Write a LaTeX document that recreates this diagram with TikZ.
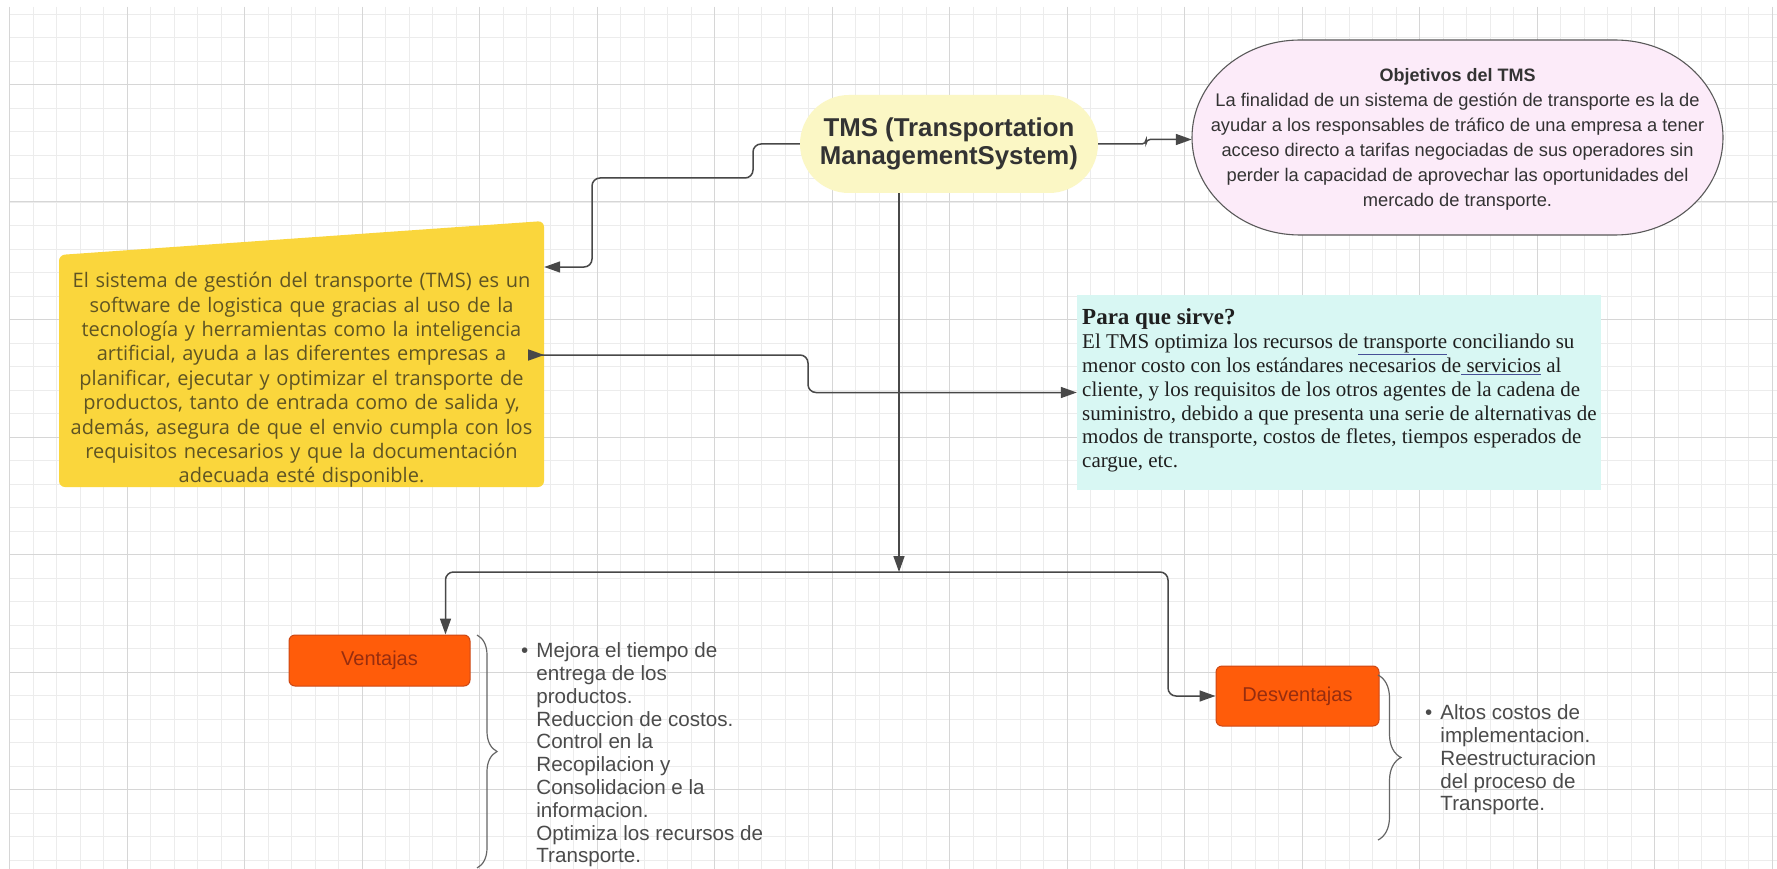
\documentclass[tikz,border=0pt]{standalone}
\usepackage{fontspec}
\setmainfont{Liberation Serif}
\setsansfont{Liberation Sans}
\newfontfamily\opensans{Open Sans}
\usetikzlibrary{arrows.meta,shapes.misc,decorations.pathreplacing}
\definecolor{gridminor}{RGB}{236,236,236}
\definecolor{gridmajor}{RGB}{214,214,214}
\definecolor{tmsyellow}{RGB}{251,247,197}
\definecolor{objpink}{RGB}{252,235,249}
\definecolor{defyellow}{RGB}{250,214,60}
\definecolor{deftext}{RGB}{95,84,35}
\definecolor{paracyan}{RGB}{216,247,243}
\definecolor{vorange}{RGB}{255,92,10}
\definecolor{vborder}{RGB}{205,72,20}
\definecolor{vtext}{RGB}{150,45,15}
\definecolor{linegray}{RGB}{72,72,72}
\definecolor{listgray}{RGB}{75,75,75}
\definecolor{ulblue}{RGB}{70,80,150}
\newcommand{\ulinktext}[1]{{\color{ulblue}\underline{\color{black!88}#1}}}

\begin{document}
\begin{tikzpicture}[x=1pt,y=-1pt,
  conn/.style={draw=linegray, line width=1.5pt, rounded corners=8pt, -{Triangle[length=16pt,width=11pt]}},
  vbox/.style={draw=vborder, line width=1pt, fill=vorange, rounded corners=6pt, text=vtext, font=\sffamily\fontsize{20}{24}\selectfont},
  bracestyle/.style={draw=black!60, line width=1.2pt, decorate, decoration={brace, amplitude=#1}},
  listtext/.style={anchor=north west, inner sep=0pt, text=listgray, font=\sffamily\fontsize{20.6}{22.8}\selectfont}]

\useasboundingbox (0,0) rectangle (1777,869);
\fill[white] (0,0) rectangle (1777,869);
\foreach \i in {0,...,75}
  \draw[gridminor, line width=0.8pt] ({9.5+23.5*\i},7) -- ({9.5+23.5*\i},869);
\foreach \j in {0,...,36}
  \draw[gridminor, line width=0.8pt] (9.5,{14+23.5*\j}) -- (1777,{14+23.5*\j});
\foreach \i in {0,...,15}
  \draw[gridmajor, line width=1pt] ({9.5+117.5*\i},7) -- ({9.5+117.5*\i},869);
\foreach \j in {0,...,6}
  \draw[gridmajor, line width=1pt] (9.5,{84.5+117.5*\j}) -- (1777,{84.5+117.5*\j});

\node[rounded rectangle, fill=tmsyellow, minimum width=298pt, minimum height=98pt, inner sep=0pt, align=center, text=black!80, font=\sffamily\bfseries\fontsize{25.8}{28}\selectfont] (tms) at (949,144) {TMS (Transportation\\ManagementSystem)};

\filldraw[fill=objpink, draw=black!65, line width=1.1pt] (1300,40) -- (1615,40) .. controls (1674.6,40) and (1723,83.65) .. (1723,137.5) .. controls (1723,191.35) and (1674.6,235) .. (1615,235) -- (1300,235) .. controls (1240.4,235) and (1192,191.35) .. (1192,137.5) .. controls (1192,83.65) and (1240.4,40) .. (1300,40) -- cycle;
\node[minimum width=531pt, minimum height=195pt, inner sep=0pt, align=center, text=black!80, font=\sffamily\fontsize{18.3}{25}\selectfont] (obj) at (1457.5,139.5) {{\bfseries\fontsize{18}{25}\selectfont Objetivos del TMS}\\La finalidad de un sistema de gestión de transporte es la de\\ayudar a los responsables de tráfico de una empresa a tener\\acceso directo a tarifas negociadas de sus operadores sin\\perder la capacidad de aprovechar las oportunidades del\\mercado de transporte.};

\fill[defyellow, rounded corners=6pt] (59,255) -- (544,221) -- (544,487) -- (59,487) -- cycle;
\node[text width=485pt, inner sep=0pt, align=center, text=deftext, font=\opensans\fontsize{20}{24.4}\selectfont] (defn) at (301.5,380) {El sistema de gestión del transporte (TMS) es un\\software de logistica que gracias al uso de la\\tecnología y herramientas como la inteligencia\\artificial, ayuda a las diferentes empresas a\\planificar, ejecutar y optimizar el transporte de\\productos, tanto de entrada como de salida y,\\además, asegura de que el envio cumpla con los\\requisitos necesarios y que la documentación\\adecuada esté disponible.};

\node[fill=paracyan, minimum width=524pt, minimum height=195pt, inner sep=0pt] (para) at (1339,392.5) {};
\node[anchor=north west, inner sep=0pt, text=black!88, font=\fontsize{21}{23.8}\selectfont] (paratext) at (1082,308) {\begin{tabular}{@{}l@{}}
{\bfseries\fontsize{23}{23.8}\selectfont Para que sirve?}\\
El TMS optimiza los recursos de\ulinktext{\ transporte} conciliando su\\
menor costo con los estándares necesarios de\ulinktext{\ servicios} al\\
cliente, y los requisitos de los otros agentes de la cadena de\\
suministro, debido a que presenta una serie de alternativas de\\
modos de transporte, costos de fletes, tiempos esperados de\\
cargue, etc.
\end{tabular}};

\node[vbox, minimum width=181pt, minimum height=51pt] (vent) at (379.5,660.5) {Ventajas};
\node[vbox, minimum width=163pt, minimum height=60pt] (desv) at (1297.5,696) {Desventajas};

\node[listtext] (ventlist) at (521,641.5) {\begin{tabular}{@{}l@{\hspace{8pt}}l@{}}
• & Mejora el tiempo de\\
 & entrega de los\\
 & productos.\\
 & Reduccion de costos.\\
 & Control en la\\
 & Recopilacion y\\
 & Consolidacion e la\\
 & informacion.\\
 & Optimiza los recursos de\\
 & Transporte.
\end{tabular}};
\node[listtext] (desvlist) at (1425,703.5) {\begin{tabular}{@{}l@{\hspace{8pt}}l@{}}
• & Altos costos de\\
 & implementacion.\\
 & Reestructuracion\\
 & del proceso de\\
 & Transporte.
\end{tabular}};

\draw[bracestyle=20pt] (477,635) -- (477,868);
\draw[bracestyle=23pt] (1378,675) -- (1378,840);

\coordinate (hub) at (899,572);
\coordinate (dstart) at ([xshift=-16pt]defn.east);
\draw[conn] (tms.west) -- (753,144) |- (592,178) |- (defn.east |- 0,267);
\draw[conn, rounded corners=4pt] (tms.east) -- (1146,144) |- (obj.west);
\draw[conn, {Triangle[length=16pt,width=11pt,reversed]}-{Triangle[length=16pt,width=11pt]}] (dstart |- 0,355) -- (808,355) |- (para.west);
\draw[conn] (tms.south -| hub) -- (hub);
\draw[conn] (hub) -| ([xshift=-25pt]vent.north east);
\draw[conn] (hub) -- (1168,572) |- (desv.west);
\end{tikzpicture}
\end{document}
